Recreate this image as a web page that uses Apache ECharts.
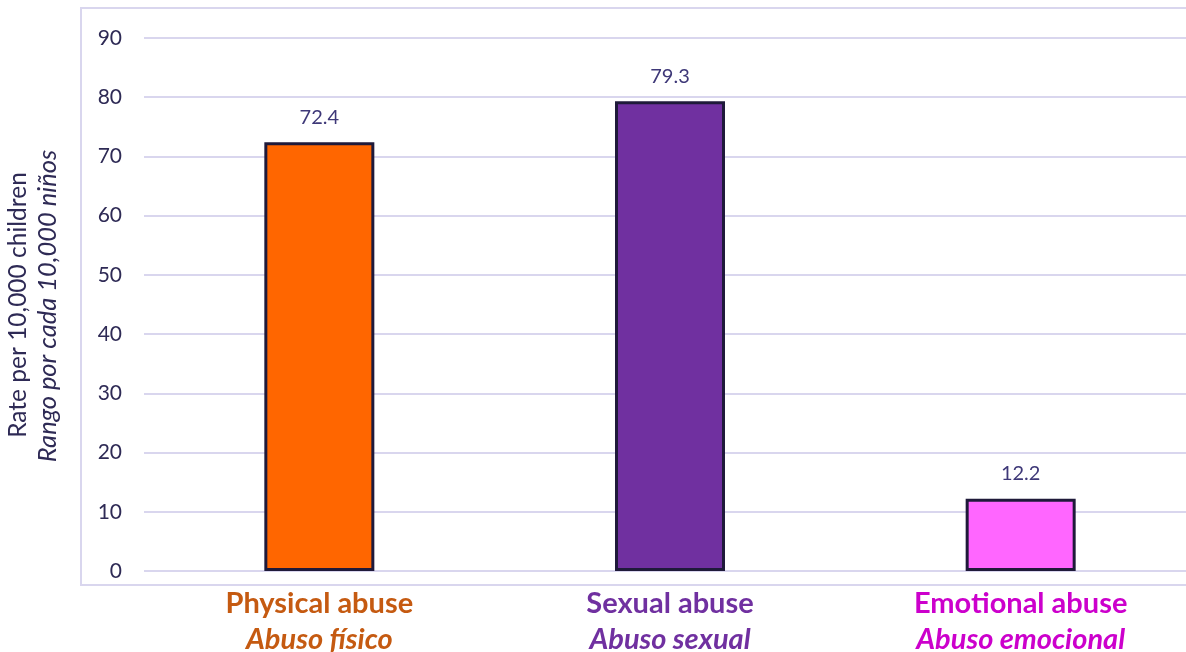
<!DOCTYPE html>
<html><head><meta charset="utf-8">
<script src="https://cdn.jsdelivr.net/npm/echarts@6/dist/echarts.min.js"></script>
<style>html,body{margin:0;padding:0;background:#fff}#c{width:1186px;height:652px}</style>
</head><body><div id="c"></div>
<script>
const categoriesEn = ['Physical abuse', 'Sexual abuse', 'Emotional abuse'];
const categoriesEs = ['Abuso físico', 'Abuso sexual', 'Abuso emocional'];
const values = [72.4, 79.3, 12.2];
const barColors = ['#ff6600', '#7030a0', '#ff66ff'];
const labelColors = ['#c55a11', '#7030a0', '#cc00cc'];
const yTitleEn = 'Rate per 10,000 children';
const yTitleEs = 'Rango por cada 10,000 niños';

const FONT = 'Lato';
const rich = {};
labelColors.forEach((c, i) => {
  rich['a' + i] = {color: c, fontWeight: 'bold', fontSize: 29, fontFamily: FONT, lineHeight: 36};
  rich['b' + i] = {color: c, fontWeight: 'bold', fontStyle: 'italic', fontSize: 29, fontFamily: FONT, lineHeight: 36};
});
const chart = echarts.init(document.getElementById('c'));
chart.setOption({
  animation: false,
  grid: {left: 144, right: -10, top: 38, bottom: 81, outerBoundsMode: 'none', containLabel: false},
  graphic: [
    {type: 'rect', z: -1, shape: {x: 81, y: 8, width: 1200, height: 577}, style: {fill: 'none', stroke: '#d9d6ee', lineWidth: 2}},
    {type: 'text', rotation: Math.PI / 2, x: 18, y: 305, style: {text: yTitleEn, fill: '#2e2a55', font: '24.5px Lato', align: 'center', verticalAlign: 'middle'}},
    {type: 'text', rotation: Math.PI / 2, x: 48, y: 306, style: {text: yTitleEs, fill: '#2e2a55', font: 'italic 25.5px Lato', align: 'center', verticalAlign: 'middle'}}
  ],
  xAxis: {
    type: 'category',
    data: categoriesEn,
    axisLine: {show: false}, axisTick: {show: false},
    axisLabel: {
      margin: 15,
      formatter: (v, i) => '{a' + i + '|' + v + '}\n{b' + i + '|' + categoriesEs[i] + '}',
      rich: rich
    }
  },
  yAxis: {
    type: 'value', min: 0, max: 90, interval: 10,
    axisLine: {show: false}, axisTick: {show: false},
    splitLine: {lineStyle: {color: '#d9d6ee', width: 2}},
    axisLabel: {color: '#2e2a55', fontSize: 21, fontFamily: FONT, margin: 22}
  },
  series: [{
    type: 'bar',
    barWidth: 110,
    data: values.map((v, i) => ({value: v, itemStyle: {color: barColors[i]}})),
    itemStyle: {borderColor: '#1f1a3a', borderWidth: 3},
    label: {show: true, position: 'top', distance: 15, color: '#3e3878', fontSize: 20, fontFamily: FONT}
  }]
});
</script></body></html>
